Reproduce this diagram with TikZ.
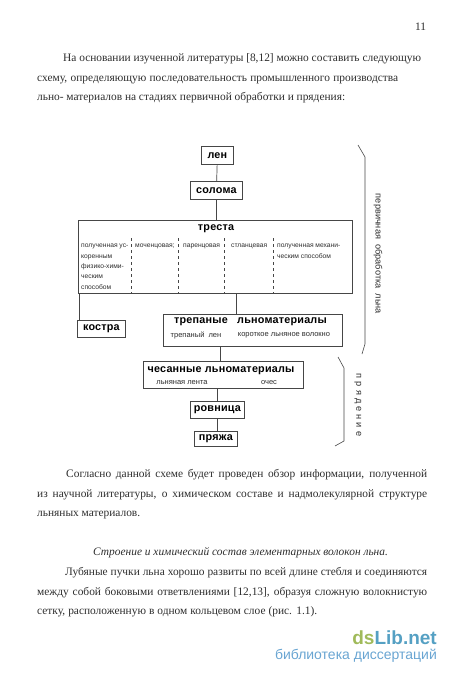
\documentclass[tikz,border=0pt]{standalone}
\usepackage{fontspec}
\setmainfont{Liberation Serif}
\setsansfont{Liberation Sans}
\usetikzlibrary{positioning}
\definecolor{inkColor}{RGB}{45,45,45}
\definecolor{lineColor}{RGB}{70,70,70}
\definecolor{markGreen}{RGB}{160,186,90}
\definecolor{markBlue}{RGB}{85,160,195}
\definecolor{markText}{RGB}{105,165,210}
\tikzstyle{schemePage} = [x = 1pt, y = -1pt]
\tikzstyle{bodyText} = [anchor=base west, inner sep=0pt, text=inkColor, font=\fontsize{11.4}{12}\selectfont]
\tikzstyle{schemeBox} = [draw=lineColor, fill=white, line width=.8pt, inner sep=0pt, anchor=north west]
\tikzstyle{boxTitle} = [inner sep=0pt, text=black, font=\sffamily\bfseries\fontsize{10.8}{11}\selectfont\addfontfeature{LetterSpace=2}]
\tikzstyle{boxNote} = [inner sep=0pt, text=inkColor, font=\sffamily\fontsize{7.5}{9.2}\selectfont]
\tikzstyle{groupNote} = [inner sep=0pt, anchor=north west, align=left, text=inkColor, font=\sffamily\fontsize{6.7}{10.3}\selectfont]
\tikzstyle{schemeLine} = [color=lineColor, line width=.7pt]
\tikzstyle{stageLine} = [color=lineColor, line width=.6pt]
\tikzstyle{stageText} = [inner sep=0pt, rotate=-90, text=inkColor, font=\sffamily\fontsize{9.2}{10}\selectfont]
\newcommand{\bodyLine}[5]{\node [bodyText] (#1) at (#2,#3) {\makebox[#4pt][s]{#5}};}
\newcommand{\schemeNode}[6]{\node [schemeBox, minimum width=#4pt, minimum height=#5pt] (#1) at (#2,#3) {}; \node [boxTitle] (#1Title) at (#1) {#6};}
\begin{document}
\begin{tikzpicture}[schemePage]
    \useasboundingbox (0,0) rectangle (450,674);
    \node [bodyText] (pageNumber) at (415,31) {11};
    \bodyLine{introOne}{63}{62}{358}{На основании изученной литературы [8,12] можно составить следующую}
    \bodyLine{introTwo}{37}{82}{361}{схему, определяющую последовательность промышленного производства}
    \bodyLine{introThree}{37}{101}{308}{льно- материалов на стадиях первичной обработки и прядения:}

    \schemeNode{len}{201}{146}{32}{18}{лен}
    \schemeNode{soloma}{190}{181}{52}{18}{солома}
    \schemeNode{tresta}{78}{220}{274}{73}{}
    \node [boxTitle] (trestaTitle) at (216,229) {треста};
    \schemeNode{kostra}{77}{320}{48}{17}{костра}
    \schemeNode{trepanye}{163}{314}{179}{32}{}
    \node [boxTitle] (trepanyeOne) at (201,322) {трепаные};
    \node [boxTitle] (trepanyeTwo) at (282,322) {льноматериалы};
    \node [boxNote] (trepanyLen) at (196,335) {трепаный\ \ лен};
    \node [boxNote] (shortFibre) at (284,335) {короткое льняное волокно};
    \schemeNode{chesanye}{143}{361}{160}{27}{}
    \node [boxTitle] (chesanyeTitle) at (221,371) {чесанные льноматериалы};
    \node [boxNote] (lenta) at (182,383) {льняная лента};
    \node [boxNote] (ochoes) at (269,383) {очес};
    \schemeNode{rovnitsa}{190}{401}{54}{17}{ровница}
    \schemeNode{pryazha}{194}{431}{43}{15}{пряжа}

    \node [groupNote] (groupOne) at (81,244) {полученная ус-\\коренным\\физико-хими-\\ческим\\способом};
    \node [groupNote] (groupTwo) at (135,244) {моченцовая;};
    \node [groupNote] (groupThree) at (183,244) {паренцовая};
    \node [groupNote] (groupFour) at (231,244) {стланцевая};
    \node [groupNote] (groupFive) at (277,244) {полученная механи-\\ческим способом};

    \foreach \dashName/\dashX in {dashOne/131, dashTwo/178, dashThree/224, dashFour/273} {
      \coordinate (\dashName) at (\dashX,238);
      \draw [schemeLine, dashed] (\dashName) -- (\dashName |- tresta.south);
    }

    \coordinate (kostraTop) at (79,320);
    \coordinate (trepanyeTop) at (236,314);
    \coordinate (chesanyeTop) at (220,361);
    \draw [schemeLine] (len) -- (soloma);
    \draw [schemeLine] (soloma.south) -- (soloma.south |- tresta.north);
    \draw [schemeLine] (kostraTop |- tresta.south) -- (kostraTop);
    \draw [schemeLine] (trepanyeTop |- tresta.south) -- (trepanyeTop);
    \draw [schemeLine] (chesanyeTop |- trepanye.south) -- (chesanyeTop);
    \draw [schemeLine] (chesanye.south -| rovnitsa.north) -- (rovnitsa.north);
    \draw [schemeLine] (rovnitsa.south) -- (rovnitsa.south |- pryazha.north);

    \coordinate (stageOneTop) at (358,145);
    \coordinate (stageOneBottom) at (362,354);
    \coordinate (stageTwoTop) at (338,357);
    \coordinate (stageTwoBottom) at (335,446);
    \draw [stageLine] (stageOneTop) -- (365,157) -- (365,344) -- (stageOneBottom);
    \draw [stageLine] (stageTwoTop) -- (344,368) -- (344,441) -- (stageTwoBottom);
    \node [stageText] (stageOneText) at (378,254) {первичная\ \ обработка\ \ льна};
    \node [stageText] (stageTwoText) at (358,405) {п\,\,р\,\,я\,\,д\,\,е\,\,н\,\,и\,\,е};

    \bodyLine{afterOne}{66}{477}{361}{Согласно данной схеме будет проведен обзор информации, полученной}
    \bodyLine{afterTwo}{37}{497}{390}{из научной литературы, о химическом составе и надмолекулярной структуре}
    \bodyLine{afterThree}{37}{516}{103}{льняных материалов.}
    \node [bodyText] (sectionTitle) at (93,555) {\itshape Строение и химический состав элементарных волокон льна.};
    \bodyLine{fibreOne}{65}{575}{362}{Лубяные пучки льна хорошо развиты по всей длине стебля и соединяются}
    \bodyLine{fibreTwo}{37}{595}{390}{между собой боковыми ответвлениями [12,13], образуя сложную волокнистую}
    \bodyLine{fibreThree}{37}{614}{280}{сетку, расположенную в одном кольцевом слое (рис. 1.1).}

    \node [inner sep=0pt, anchor=base east, font=\sffamily\bfseries\fontsize{19}{20}\selectfont] (markTop) at (437,644) {\textcolor{markGreen}{ds}\textcolor{markBlue}{Lib.net}};
    \node [inner sep=0pt, anchor=base east, text=markText, font=\sffamily\fontsize{14}{14}\selectfont] (markBottom) at (437,659) {библиотека диссертаций};
\end{tikzpicture}
\end{document}
